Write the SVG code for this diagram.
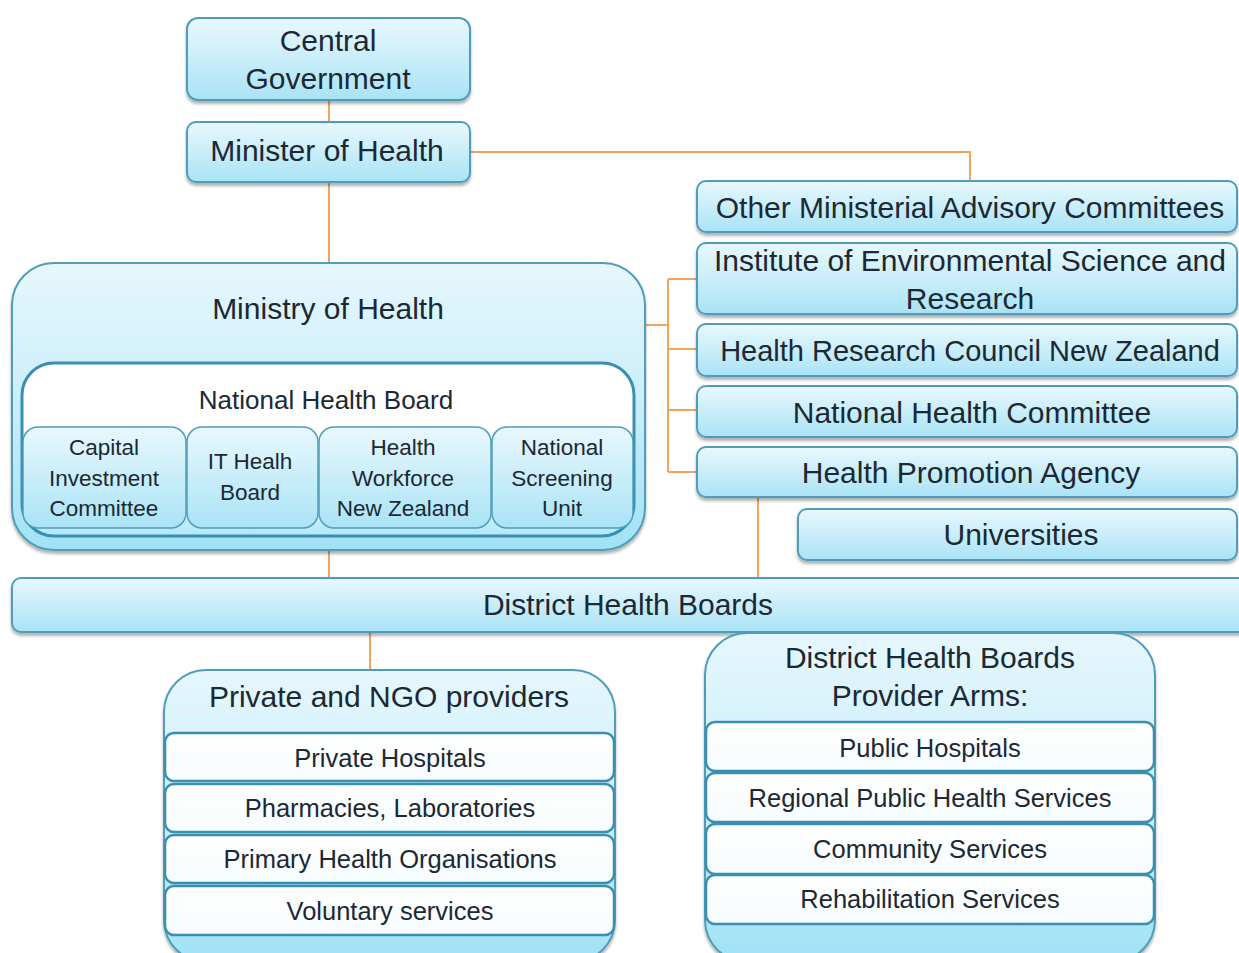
<svg xmlns="http://www.w3.org/2000/svg" width="1239" height="953" viewBox="0 0 1239 953">
  <defs>
    <linearGradient id="gBox" x1="0" y1="0" x2="0" y2="1">
      <stop offset="0" stop-color="#e9f8fd"/>
      <stop offset="1" stop-color="#a9e3f6"/>
    </linearGradient>
    <linearGradient id="gBig" x1="0" y1="0" x2="0" y2="1">
      <stop offset="0" stop-color="#e6f7fd"/>
      <stop offset="0.5" stop-color="#c9eefa"/>
      <stop offset="1" stop-color="#a2e1f5"/>
    </linearGradient>
    <linearGradient id="gNhb" x1="0" y1="0" x2="0" y2="1">
      <stop offset="0" stop-color="#ffffff"/>
      <stop offset="0.85" stop-color="#ffffff"/>
      <stop offset="0.9" stop-color="#c6eefa"/>
      <stop offset="1" stop-color="#b2e7f8"/>
    </linearGradient>
    <linearGradient id="gRow" x1="0" y1="0" x2="0" y2="1">
      <stop offset="0" stop-color="#ffffff"/>
      <stop offset="1" stop-color="#f6fcfe"/>
    </linearGradient>
    <filter id="shadow" x="-5%" y="-10%" width="110%" height="130%">
      <feDropShadow dx="0" dy="3" stdDeviation="1.8" flood-color="#000000" flood-opacity="0.3"/>
    </filter>
  </defs>
  <style>
    .box { fill: url(#gBox); stroke: #4f9db8; stroke-width: 2; filter: url(#shadow); }
    .big { fill: url(#gBig); stroke: #4f9db8; stroke-width: 2; filter: url(#shadow); }
    .nhb { fill: url(#gNhb); stroke: #3a8fb0; stroke-width: 3; }
    .sub { fill: url(#gBox); stroke: #4f9db8; stroke-width: 1.5; }
    .row { fill: url(#gRow); stroke: #3a8fb0; stroke-width: 2.5; }
    .link { fill: none; stroke: #f2a35e; stroke-width: 2; }
    text { font-family: "Liberation Sans", Arial, sans-serif; fill: #1c2833; text-anchor: middle; }
    .t30 { font-size: 30px; }
    .t29 { font-size: 29px; }
    .t26 { font-size: 26px; }
    .t25 { font-size: 25.5px; }
    .t22 { font-size: 22.5px; }
  </style>
  <rect width="1239" height="953" fill="#ffffff"/>

  <!-- connectors -->
  <g id="connectors">
    <path class="link" d="M329,100 V122"/>
    <path class="link" d="M329,182 V263"/>
    <path class="link" d="M470,152 H970 V181"/>
    <path class="link" d="M645,325 H668"/>
    <path class="link" d="M668,279 V472"/>
    <path class="link" d="M668,279 H697"/>
    <path class="link" d="M668,349 H697"/>
    <path class="link" d="M668,410 H697"/>
    <path class="link" d="M668,472 H697"/>
    <path class="link" d="M758,497 V578"/>
    <path class="link" d="M329,550 V578"/>
    <path class="link" d="M370,632 V670"/>
  </g>

  <g id="central-government">
    <rect class="box" x="187" y="18" width="283" height="82" rx="11"/>
    <text class="t30" x="328" y="51">Central</text>
    <text class="t30" x="328" y="89">Government</text>
  </g>

  <g id="minister-of-health">
    <rect class="box" x="187" y="122" width="283" height="60" rx="9"/>
    <text class="t30" x="327" y="161">Minister of Health</text>
  </g>

  <g id="other-ministerial">
    <rect class="box" x="697" y="181" width="540" height="51" rx="9"/>
    <text class="t30" x="970" y="218">Other Ministerial Advisory Committees</text>
  </g>

  <g id="esr">
    <rect class="box" x="697" y="243" width="540" height="71" rx="9"/>
    <text class="t30" x="970" y="271">Institute of Environmental Science and</text>
    <text class="t30" x="970" y="309">Research</text>
  </g>

  <g id="hrc">
    <rect class="box" x="697" y="324" width="540" height="52" rx="9"/>
    <text class="t29" x="970" y="361">Health Research Council New Zealand</text>
  </g>

  <g id="nhc">
    <rect class="box" x="697" y="386" width="540" height="51" rx="9"/>
    <text class="t30" x="972" y="423">National Health Committee</text>
  </g>

  <g id="hpa">
    <rect class="box" x="697" y="447" width="540" height="50" rx="9"/>
    <text class="t30" x="971" y="483">Health Promotion Agency</text>
  </g>

  <g id="universities">
    <rect class="box" x="798" y="509" width="439" height="51" rx="9"/>
    <text class="t30" x="1021" y="545">Universities</text>
  </g>

  <g id="ministry-of-health">
    <rect class="big" x="12" y="263" width="633" height="287" rx="42"/>
    <text class="t30" x="328" y="319">Ministry of Health</text>
    <g id="national-health-board">
      <rect class="nhb" x="22" y="363" width="612" height="173" rx="32"/>
      <text class="t26" x="326" y="409">National Health Board</text>
      <g id="capital-investment">
        <rect class="sub" x="23" y="427" width="163" height="101" rx="15"/>
        <text class="t22" x="104" y="455">Capital</text>
        <text class="t22" x="104" y="486">Investment</text>
        <text class="t22" x="104" y="516">Committee</text>
      </g>
      <g id="it-health-board">
        <rect class="sub" x="187" y="427" width="131" height="101" rx="15"/>
        <text class="t22" x="250" y="469">IT Healh</text>
        <text class="t22" x="250" y="500">Board</text>
      </g>
      <g id="health-workforce">
        <rect class="sub" x="319" y="427" width="172" height="101" rx="15"/>
        <text class="t22" x="403" y="455">Health</text>
        <text class="t22" x="403" y="486">Workforce</text>
        <text class="t22" x="403" y="516">New Zealand</text>
      </g>
      <g id="national-screening">
        <rect class="sub" x="492" y="427" width="141" height="101" rx="15"/>
        <text class="t22" x="562" y="455">National</text>
        <text class="t22" x="562" y="486">Screening</text>
        <text class="t22" x="562" y="516">Unit</text>
      </g>
    </g>
  </g>

  <g id="district-health-boards">
    <rect class="box" x="12" y="578" width="1240" height="54" rx="9"/>
    <text class="t30" x="628" y="615">District Health Boards</text>
  </g>

  <g id="private-ngo">
    <rect class="big" x="164" y="670" width="451" height="292" rx="42"/>
    <text class="t30" x="389" y="707">Private and NGO providers</text>
    <rect class="row" x="165" y="733" width="449" height="48" rx="9"/>
    <text class="t25" x="390" y="767">Private Hospitals</text>
    <rect class="row" x="165" y="784" width="449" height="48" rx="9"/>
    <text class="t25" x="390" y="817">Pharmacies, Laboratories</text>
    <rect class="row" x="165" y="835" width="449" height="48" rx="9"/>
    <text class="t25" x="390" y="868">Primary Health Organisations</text>
    <rect class="row" x="165" y="886" width="449" height="49" rx="9"/>
    <text class="t25" x="390" y="920">Voluntary services</text>
  </g>

  <g id="dhb-provider-arms">
    <rect class="big" x="705" y="633" width="450" height="329" rx="42"/>
    <text class="t30" x="930" y="668">District Health Boards</text>
    <text class="t30" x="930" y="706">Provider Arms:</text>
    <rect class="row" x="706" y="722" width="448" height="49" rx="9"/>
    <text class="t25" x="930" y="757">Public Hospitals</text>
    <rect class="row" x="706" y="773" width="448" height="49" rx="9"/>
    <text class="t25" x="930" y="807">Regional Public Health Services</text>
    <rect class="row" x="706" y="824" width="448" height="50" rx="9"/>
    <text class="t25" x="930" y="858">Community Services</text>
    <rect class="row" x="706" y="875" width="448" height="49" rx="9"/>
    <text class="t25" x="930" y="908">Rehabilitation Services</text>
  </g>
</svg>
